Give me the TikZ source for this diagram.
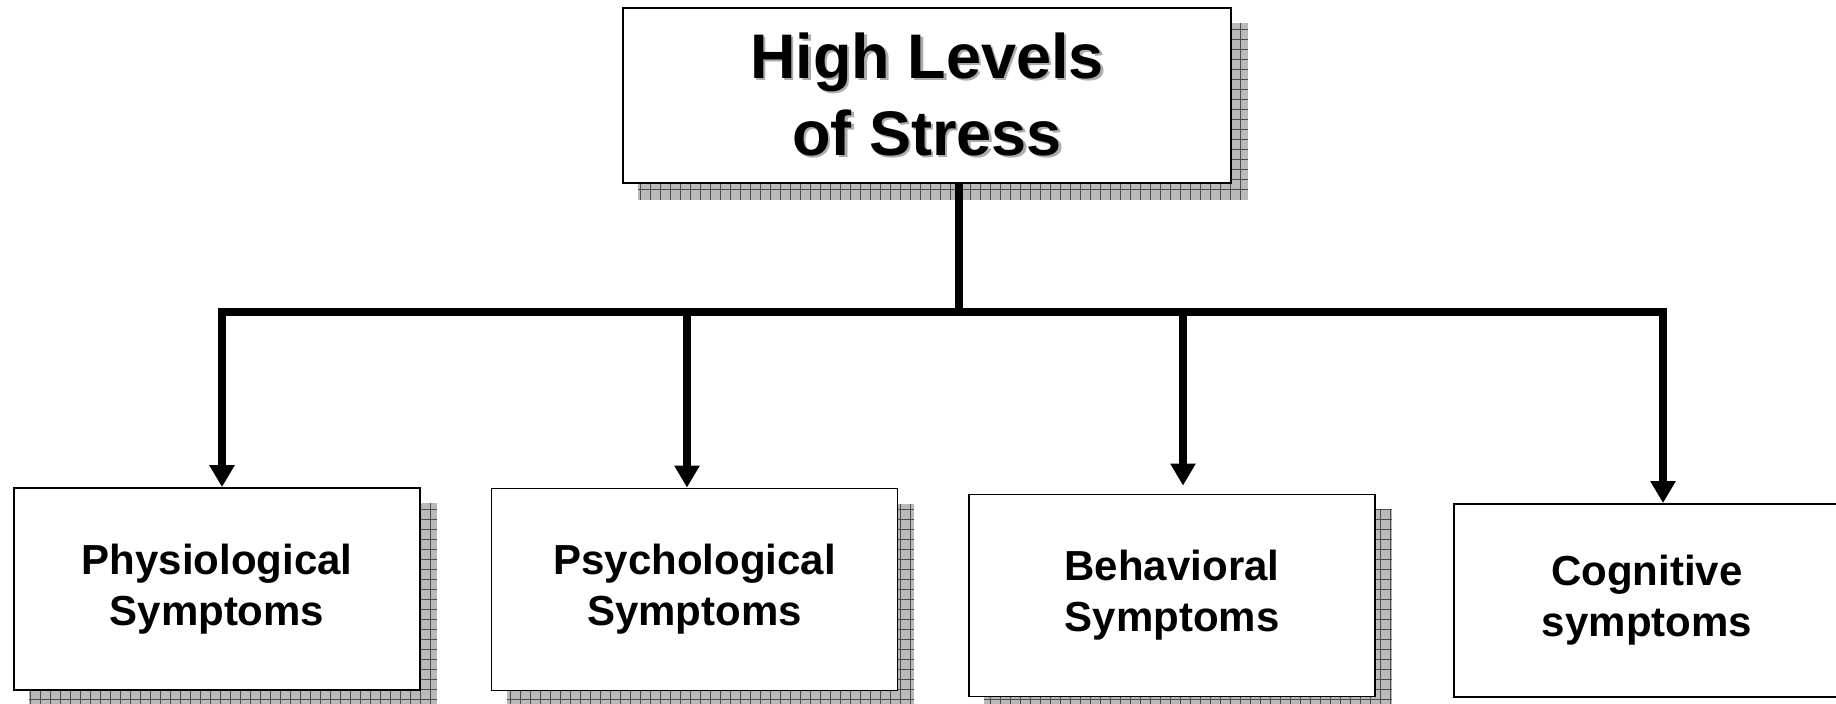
\documentclass[tikz,border=0pt]{standalone}
\usepackage{fontspec}
\setmainfont{Liberation Sans}
\usetikzlibrary{arrows.meta}
\pgfdeclarelayer{bg}
\pgfsetlayers{bg,main}
\newcommand{\shadetext}[1]{\rlap{\kern1.3pt\raisebox{-1.3pt}{\textcolor{gray!65}{#1}}}#1}

\begin{document}
\begin{tikzpicture}[symbox/.style={draw,line width=0.9pt,fill=white,inner sep=0pt,align=center,%
        minimum width=203pt,minimum height=101pt,font=\bfseries\fontsize{21}{25.5}\selectfont},
        shadowrect/.style={fill=gray!55,path picture={\draw[black!70,line width=0.5pt,step=5pt]
            (path picture bounding box.south west) grid (path picture bounding box.north east);}},
        linkline/.style={line width=3.8pt,line join=miter},
        arr/.style={linkline,-{Triangle[width=12pt,length=11pt]}}]
    \useasboundingbox (0,0) rectangle (918pt,-352pt);
    % boxes
    \node[symbox,minimum width=304pt,minimum height=87.5pt,font=\bfseries\fontsize{31.5}{38.5}\selectfont]
        (top) at (463.5pt,-47.75pt) {\shadetext{High Levels}\\\shadetext{of Stress}};
    \node[symbox] (b1) at (108.5pt,-294.5pt) {Physiological\\Symptoms};
    \node[symbox] (b2) at (347.25pt,-294.75pt) {Psychological\\Symptoms};
    \node[symbox] (b3) at (586pt,-297.75pt) {Behavioral\\Symptoms};
    \node[symbox,minimum width=193pt,minimum height=96.5pt] (b4) at (823.5pt,-300.25pt) {Cognitive\\symptoms};
    % shadows
    \begin{pgfonlayer}{bg}
        \foreach \n in {top,b1,b2,b3}
            \path[shadowrect] ([shift={(8pt,-8pt)}]\n.south west) rectangle ([shift={(8pt,-8pt)}]\n.north east);
    \end{pgfonlayer}
    % connectors
    \coordinate (stem) at (479.5pt,-156pt);
    \coordinate (a1) at (111pt,-156pt);
    \coordinate (a2) at (343.5pt,-156pt);
    \coordinate (a3) at (591.5pt,-156pt);
    \coordinate (a4) at (831.5pt,-156pt);
    \draw[linkline] (stem |- top.south) -- (stem);
    \draw[arr] (stem) -| (a1 |- b1.north);
    \draw[arr] (stem) -| (a4 |- b4.north);
    \draw[arr] (a2) -- (a2 |- b2.north);
    \draw[arr,shorten >=4pt] (a3) -- (a3 |- b3.north);
\end{tikzpicture}
\end{document}
